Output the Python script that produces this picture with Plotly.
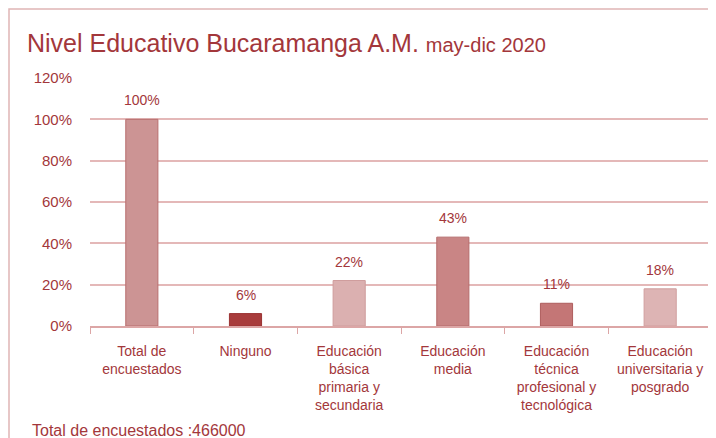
import plotly.graph_objects as go

categories = ["Total de<br>encuestados", "Ninguno", "Educación<br>básica<br>primaria y<br>secundaria",
              "Educación<br>media", "Educación<br>técnica<br>profesional y<br>tecnológica",
              "Educación<br>universitaria y<br>posgrado"]
values = [1.00, 0.06, 0.22, 0.43, 0.11, 0.18]
labels = ["100%", "6%", "22%", "43%", "11%", "18%"]
bar_colors = ["#cc9494", "#a83c3c", "#dbb0b0", "#c98585", "#c47676", "#ddb4b4"]
line_colors = ["#b96f6f", "#9a3232", "#cf9c9c", "#b56b6b", "#ae5d5d", "#d09f9f"]
y_ticks = [0, 0.2, 0.4, 0.6, 0.8, 1.0, 1.2]
y_tick_text = ["0%", "20%", "40%", "60%", "80%", "100%", "120%"]

red = "#a3373b"
font_family = "Liberation Sans, Arial"

# The page body has an 8px margin, so the figure is laid out in coordinates offset by 8px
W, H = 708, 430
L, R, T, B = 82, 4, 70, 112
PW, PH = W - L - R, H - T - B

fig = go.Figure(go.Bar(
    x=categories, y=values,
    marker=dict(color=bar_colors, line=dict(color=line_colors, width=1)),
))

for c, v, t in zip(categories, values, labels):
    fig.add_annotation(x=c, y=v, text=t, showarrow=False, yanchor="bottom", yshift=9,
                       font=dict(size=14, color=red, family=font_family))

fig.update_layout(
    width=W, height=H,
    margin=dict(l=L, r=R, t=T, b=B, autoexpand=False),
    paper_bgcolor="white", plot_bgcolor="white",
    bargap=0.69,
    showlegend=False,
    font=dict(family=font_family, color=red, size=14),
    title=dict(
        text="Nivel Educativo Bucaramanga A.M. <span style='font-size:20px'>may-dic 2020</span>",
        x=19/W, xanchor="left", xref="container",
        y=1-35/H, yanchor="middle", yref="container",
        font=dict(size=25, color=red, family=font_family),
    ),
    xaxis=dict(
        tickson="boundaries", ticks="outside", ticklen=6, tickcolor="#dca6a6",
        showline=True, linecolor="#dca6a6", linewidth=1.5,
        tickfont=dict(size=14, color=red, family=font_family),
        showgrid=False, automargin=False, ticklabelstandoff=11,
    ),
    yaxis=dict(
        range=[0, 1.2], tickvals=y_ticks, ticktext=y_tick_text,
        showgrid=True, gridcolor="#e4b8b8", gridwidth=1.5,
        zeroline=False, ticks="", ticklabelstandoff=17, automargin=False,
        tickfont=dict(size=15, color=red, family=font_family),
    ),
    shapes=[dict(type="rect", xref="paper", yref="paper",
                 x0=(1-L)/PW, x1=1.2, y0=-0.5, y1=(T + PH - 1)/PH,
                 line=dict(color="#e0b5b5", width=1.5), fillcolor="rgba(0,0,0,0)", layer="below")],
)
fig.add_annotation(text="Total de encuestados :466000", xref="paper", yref="paper",
                   x=(22-L)/PW, y=(T + PH - 422)/PH, xanchor="left", yanchor="middle", showarrow=False,
                   font=dict(size=16, color=red, family=font_family))

fig.write_html("out.html")
